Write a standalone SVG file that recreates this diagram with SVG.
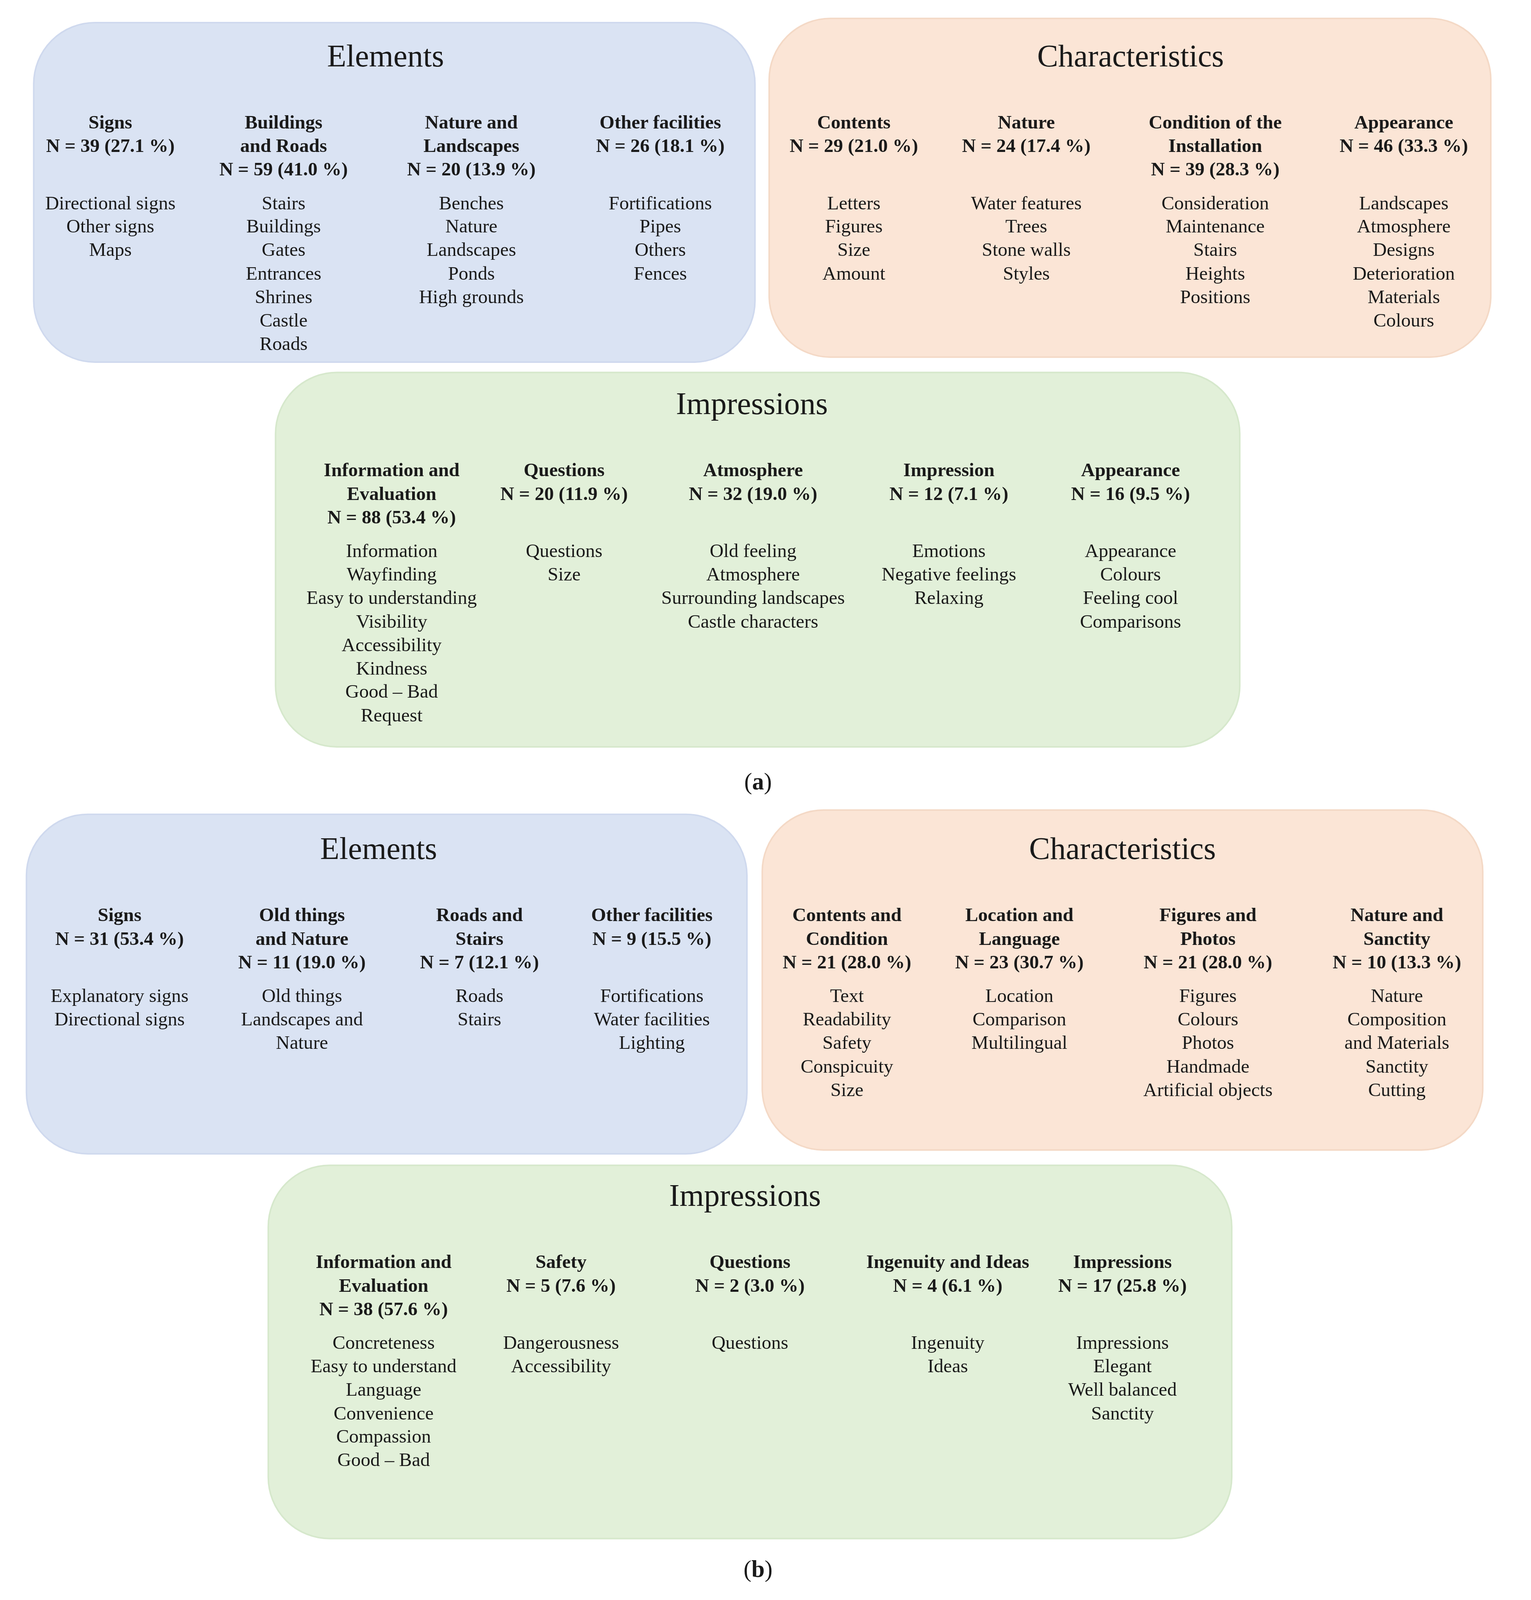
<svg xmlns="http://www.w3.org/2000/svg" width="3919" height="4146" viewBox="0 0 3919 4146">
<style>
text{font-family:"Liberation Serif","DejaVu Serif",serif;fill:#1a1a1a;text-anchor:middle}
.t{font-size:82px}
.h{font-size:50px;font-weight:bold}
.i{font-size:50px}
.bl{fill:#dae3f3;stroke:#cfd9ee;stroke-width:4}
.or{fill:#fbe5d6;stroke:#f4d9c6;stroke-width:4}
.gr{fill:#e2f0d9;stroke:#d6e8cc;stroke-width:4}
</style>
<rect width="3919" height="4146" fill="#fff"/>
<g transform="scale(0.981)">
<g id="a-elements">
<rect class="bl" x="88" y="59" width="1882" height="886" rx="160"/>
<text class="t" x="1006" y="173">Elements</text>
<text class="h" x="288"><tspan x="288" y="335">Signs</tspan><tspan x="288" y="397">N = 39 (27.1 %)</tspan></text>
<text class="i"><tspan x="288" y="546">Directional signs</tspan><tspan x="288" y="607">Other signs</tspan><tspan x="288" y="668">Maps</tspan></text>
<text class="h"><tspan x="740" y="335">Buildings</tspan><tspan x="740" y="397">and Roads</tspan><tspan x="740" y="458">N = 59 (41.0 %)</tspan></text>
<text class="i"><tspan x="740" y="546">Stairs</tspan><tspan x="740" y="607">Buildings</tspan><tspan x="740" y="668">Gates</tspan><tspan x="740" y="730">Entrances</tspan><tspan x="740" y="791">Shrines</tspan><tspan x="740" y="852">Castle</tspan><tspan x="740" y="913">Roads</tspan></text>
<text class="h"><tspan x="1230" y="335">Nature and</tspan><tspan x="1230" y="397">Landscapes</tspan><tspan x="1230" y="458">N = 20 (13.9 %)</tspan></text>
<text class="i"><tspan x="1230" y="546">Benches</tspan><tspan x="1230" y="607">Nature</tspan><tspan x="1230" y="668">Landscapes</tspan><tspan x="1230" y="730">Ponds</tspan><tspan x="1230" y="791">High grounds</tspan></text>
<text class="h"><tspan x="1723" y="335">Other facilities</tspan><tspan x="1723" y="397">N = 26 (18.1 %)</tspan></text>
<text class="i"><tspan x="1723" y="546">Fortifications</tspan><tspan x="1723" y="607">Pipes</tspan><tspan x="1723" y="668">Others</tspan><tspan x="1723" y="730">Fences</tspan></text>
</g>
<g id="a-characteristics">
<rect class="or" x="2007" y="48" width="1883" height="884" rx="160"/>
<text class="t" x="2950" y="173">Characteristics</text>
<text class="h"><tspan x="2228" y="335">Contents</tspan><tspan x="2228" y="397">N = 29 (21.0 %)</tspan></text>
<text class="i"><tspan x="2228" y="546">Letters</tspan><tspan x="2228" y="607">Figures</tspan><tspan x="2228" y="668">Size</tspan><tspan x="2228" y="730">Amount</tspan></text>
<text class="h"><tspan x="2678" y="335">Nature</tspan><tspan x="2678" y="397">N = 24 (17.4 %)</tspan></text>
<text class="i"><tspan x="2678" y="546">Water features</tspan><tspan x="2678" y="607">Trees</tspan><tspan x="2678" y="668">Stone walls</tspan><tspan x="2678" y="730">Styles</tspan></text>
<text class="h"><tspan x="3171" y="335">Condition of the</tspan><tspan x="3171" y="397">Installation</tspan><tspan x="3171" y="458">N = 39 (28.3 %)</tspan></text>
<text class="i"><tspan x="3171" y="546">Consideration</tspan><tspan x="3171" y="607">Maintenance</tspan><tspan x="3171" y="668">Stairs</tspan><tspan x="3171" y="730">Heights</tspan><tspan x="3171" y="791">Positions</tspan></text>
<text class="h"><tspan x="3663" y="335">Appearance</tspan><tspan x="3663" y="397">N = 46 (33.3 %)</tspan></text>
<text class="i"><tspan x="3663" y="546">Landscapes</tspan><tspan x="3663" y="607">Atmosphere</tspan><tspan x="3663" y="668">Designs</tspan><tspan x="3663" y="730">Deterioration</tspan><tspan x="3663" y="791">Materials</tspan><tspan x="3663" y="852">Colours</tspan></text>
</g>
<g id="a-impressions">
<rect class="gr" x="719" y="972" width="2516" height="977" rx="160"/>
<text class="t" x="1962" y="1081">Impressions</text>
<text class="h"><tspan x="1022" y="1243">Information and</tspan><tspan x="1022" y="1305">Evaluation</tspan><tspan x="1022" y="1366">N = 88 (53.4 %)</tspan></text>
<text class="i"><tspan x="1022" y="1454">Information</tspan><tspan x="1022" y="1515">Wayfinding</tspan><tspan x="1022" y="1576">Easy to understanding</tspan><tspan x="1022" y="1638">Visibility</tspan><tspan x="1022" y="1699">Accessibility</tspan><tspan x="1022" y="1760">Kindness</tspan><tspan x="1022" y="1821">Good – Bad</tspan><tspan x="1022" y="1883">Request</tspan></text>
<text class="h"><tspan x="1472" y="1243">Questions</tspan><tspan x="1472" y="1305">N = 20 (11.9 %)</tspan></text>
<text class="i"><tspan x="1472" y="1454">Questions</tspan><tspan x="1472" y="1515">Size</tspan></text>
<text class="h"><tspan x="1965" y="1243">Atmosphere</tspan><tspan x="1965" y="1305">N = 32 (19.0 %)</tspan></text>
<text class="i"><tspan x="1965" y="1454">Old feeling</tspan><tspan x="1965" y="1515">Atmosphere</tspan><tspan x="1965" y="1576">Surrounding landscapes</tspan><tspan x="1965" y="1638">Castle characters</tspan></text>
<text class="h"><tspan x="2476" y="1243">Impression</tspan><tspan x="2476" y="1305">N = 12 (7.1 %)</tspan></text>
<text class="i"><tspan x="2476" y="1454">Emotions</tspan><tspan x="2476" y="1515">Negative feelings</tspan><tspan x="2476" y="1576">Relaxing</tspan></text>
<text class="h"><tspan x="2950" y="1243">Appearance</tspan><tspan x="2950" y="1305">N = 16 (9.5 %)</tspan></text>
<text class="i"><tspan x="2950" y="1454">Appearance</tspan><tspan x="2950" y="1515">Colours</tspan><tspan x="2950" y="1576">Feeling cool</tspan><tspan x="2950" y="1638">Comparisons</tspan></text>
</g>
<text class="i" x="1978" y="2060" style="font-size:62px">(<tspan font-weight="bold">a</tspan>)</text>
<g id="b-elements">
<rect class="bl" x="69" y="2125" width="1880" height="886" rx="160"/>
<text class="t" x="988" y="2242">Elements</text>
<text class="h"><tspan x="312" y="2404">Signs</tspan><tspan x="312" y="2466">N = 31 (53.4 %)</tspan></text>
<text class="i"><tspan x="312" y="2615">Explanatory signs</tspan><tspan x="312" y="2676">Directional signs</tspan></text>
<text class="h"><tspan x="788" y="2404">Old things</tspan><tspan x="788" y="2466">and Nature</tspan><tspan x="788" y="2527">N = 11 (19.0 %)</tspan></text>
<text class="i"><tspan x="788" y="2615">Old things</tspan><tspan x="788" y="2676">Landscapes and</tspan><tspan x="788" y="2737">Nature</tspan></text>
<text class="h"><tspan x="1251" y="2404">Roads and</tspan><tspan x="1251" y="2466">Stairs</tspan><tspan x="1251" y="2527">N = 7 (12.1 %)</tspan></text>
<text class="i"><tspan x="1251" y="2615">Roads</tspan><tspan x="1251" y="2676">Stairs</tspan></text>
<text class="h"><tspan x="1701" y="2404">Other facilities</tspan><tspan x="1701" y="2466">N = 9 (15.5 %)</tspan></text>
<text class="i"><tspan x="1701" y="2615">Fortifications</tspan><tspan x="1701" y="2676">Water facilities</tspan><tspan x="1701" y="2737">Lighting</tspan></text>
</g>
<g id="b-characteristics">
<rect class="or" x="1989" y="2114" width="1880" height="887" rx="160"/>
<text class="t" x="2929" y="2242">Characteristics</text>
<text class="h"><tspan x="2210" y="2404">Contents and</tspan><tspan x="2210" y="2466">Condition</tspan><tspan x="2210" y="2527">N = 21 (28.0 %)</tspan></text>
<text class="i"><tspan x="2210" y="2615">Text</tspan><tspan x="2210" y="2676">Readability</tspan><tspan x="2210" y="2737">Safety</tspan><tspan x="2210" y="2799">Conspicuity</tspan><tspan x="2210" y="2860">Size</tspan></text>
<text class="h"><tspan x="2660" y="2404">Location and</tspan><tspan x="2660" y="2466">Language</tspan><tspan x="2660" y="2527">N = 23 (30.7 %)</tspan></text>
<text class="i"><tspan x="2660" y="2615">Location</tspan><tspan x="2660" y="2676">Comparison</tspan><tspan x="2660" y="2737">Multilingual</tspan></text>
<text class="h"><tspan x="3152" y="2404">Figures and</tspan><tspan x="3152" y="2466">Photos</tspan><tspan x="3152" y="2527">N = 21 (28.0 %)</tspan></text>
<text class="i"><tspan x="3152" y="2615">Figures</tspan><tspan x="3152" y="2676">Colours</tspan><tspan x="3152" y="2737">Photos</tspan><tspan x="3152" y="2799">Handmade</tspan><tspan x="3152" y="2860">Artificial objects</tspan></text>
<text class="h"><tspan x="3645" y="2404">Nature and</tspan><tspan x="3645" y="2466">Sanctity</tspan><tspan x="3645" y="2527">N = 10 (13.3 %)</tspan></text>
<text class="i"><tspan x="3645" y="2615">Nature</tspan><tspan x="3645" y="2676">Composition</tspan><tspan x="3645" y="2737">and Materials</tspan><tspan x="3645" y="2799">Sanctity</tspan><tspan x="3645" y="2860">Cutting</tspan></text>
</g>
<g id="b-impressions">
<rect class="gr" x="700" y="3041" width="2514" height="974" rx="160"/>
<text class="t" x="1944" y="3147">Impressions</text>
<text class="h"><tspan x="1001" y="3309">Information and</tspan><tspan x="1001" y="3371">Evaluation</tspan><tspan x="1001" y="3432">N = 38 (57.6 %)</tspan></text>
<text class="i"><tspan x="1001" y="3520">Concreteness</tspan><tspan x="1001" y="3581">Easy to understand</tspan><tspan x="1001" y="3642">Language</tspan><tspan x="1001" y="3704">Convenience</tspan><tspan x="1001" y="3765">Compassion</tspan><tspan x="1001" y="3826">Good – Bad</tspan></text>
<text class="h"><tspan x="1464" y="3309">Safety</tspan><tspan x="1464" y="3371">N = 5 (7.6 %)</tspan></text>
<text class="i"><tspan x="1464" y="3520">Dangerousness</tspan><tspan x="1464" y="3581">Accessibility</tspan></text>
<text class="h"><tspan x="1957" y="3309">Questions</tspan><tspan x="1957" y="3371">N = 2 (3.0 %)</tspan></text>
<text class="i"><tspan x="1957" y="3520">Questions</tspan></text>
<text class="h"><tspan x="2473" y="3309">Ingenuity and Ideas</tspan><tspan x="2473" y="3371">N = 4 (6.1 %)</tspan></text>
<text class="i"><tspan x="2473" y="3520">Ingenuity</tspan><tspan x="2473" y="3581">Ideas</tspan></text>
<text class="h"><tspan x="2929" y="3309">Impressions</tspan><tspan x="2929" y="3371">N = 17 (25.8 %)</tspan></text>
<text class="i"><tspan x="2929" y="3520">Impressions</tspan><tspan x="2929" y="3581">Elegant</tspan><tspan x="2929" y="3642">Well balanced</tspan><tspan x="2929" y="3704">Sanctity</tspan></text>
</g>
<text class="i" x="1978" y="4115" style="font-size:62px">(<tspan font-weight="bold">b</tspan>)</text>
</g>
<g id="connectors"/>
</svg>
